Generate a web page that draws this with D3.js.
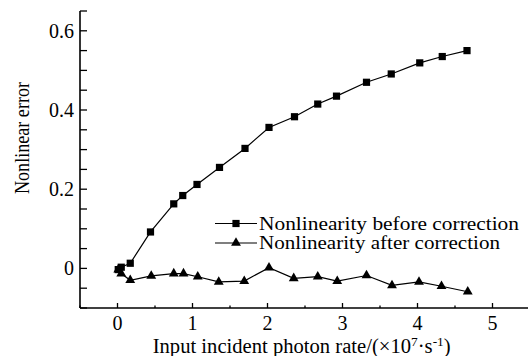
<!DOCTYPE html>
<html><head><meta charset="utf-8">
<script src="https://cdn.jsdelivr.net/npm/d3@7"></script>
<style>body{margin:0;background:#fff}svg{display:block}</style>
</head><body><svg id="c" width="528" height="356"></svg>
<script>
const beforeX = [0.01, 0.05, 0.17, 0.44, 0.75, 0.87, 1.06, 1.36, 1.70, 2.02, 2.36, 2.67, 2.92, 3.32, 3.65, 4.03, 4.33, 4.66];
const beforeY = [-0.003, 0.003, 0.013, 0.092, 0.163, 0.184, 0.212, 0.255, 0.303, 0.356, 0.383, 0.415, 0.435, 0.470, 0.491, 0.519, 0.535, 0.550];
const afterX = [0.01, 0.05, 0.17, 0.45, 0.75, 0.88, 1.07, 1.35, 1.69, 2.02, 2.35, 2.67, 2.93, 3.32, 3.66, 4.02, 4.32, 4.67];
const afterY = [-0.003, -0.013, -0.030, -0.019, -0.013, -0.013, -0.021, -0.034, -0.032, 0.002, -0.025, -0.021, -0.032, -0.018, -0.043, -0.034, -0.045, -0.059];
const xTicks = [0, 1, 2, 3, 4, 5];
const yTickLabels = [0, 0.2, 0.4, 0.6];
const seriesNames = ["Nonlinearity before correction", "Nonlinearity after correction"];

const FONT = "'Liberation Serif', 'Times New Roman', serif";
const svg = d3.select("#c");
const x = d3.scaleLinear().domain([-0.5, 5.5]).range([80, 530]);
const y = d3.scaleLinear().domain([-0.1, 0.65]).range([308, 11]);
const FS = 20;

const xMinor = d3.range(-0.5, 5.51, 0.5).filter(v => Math.abs(v - Math.round(v)) > 1e-6);
const yAll = d3.range(-0.1, 0.651, 0.05).map(v => +v.toFixed(2));

const ax = svg.append("g").attr("stroke", "#000");
ax.append("line").attr("x1", x(-0.5)).attr("x2", x(5.5)).attr("y1", y(-0.1)).attr("y2", y(-0.1)).attr("stroke-width", 1.6);
ax.append("line").attr("x1", x(-0.5)).attr("x2", x(-0.5)).attr("y1", y(-0.1)).attr("y2", y(0.65)).attr("stroke-width", 1.6);
ax.selectAll(".xt").data(xTicks).join("line").attr("x1", d => x(d)).attr("x2", d => x(d)).attr("y1", y(-0.1)).attr("y2", y(-0.1) - 5).attr("stroke-width", 1.3);
ax.selectAll(".xm").data(xMinor).join("line").attr("x1", d => x(d)).attr("x2", d => x(d)).attr("y1", y(-0.1)).attr("y2", y(-0.1) - 2.5).attr("stroke-width", 1.3);
ax.selectAll(".yt").data(yAll).join("line").attr("x1", x(-0.5)).attr("x2", x(-0.5) + 7).attr("y1", d => y(d)).attr("y2", d => y(d)).attr("stroke-width", 1.3);

const T = sel => sel.attr("font-family", FONT).attr("fill", "#000").attr("font-size", FS);
svg.selectAll(".xl").data(xTicks).join("text").call(T).attr("x", d => x(d)).attr("y", 329.5).attr("text-anchor", "middle").text(d => d);
svg.selectAll(".yl").data(yTickLabels).join("text").call(T).attr("x", 74).attr("y", d => y(d) + 6.8).attr("text-anchor", "end").text(d => d === 0 ? "0" : d.toFixed(1));

svg.append("text").call(T).attr("transform", "translate(29,138) rotate(-90)").attr("text-anchor", "middle").attr("textLength", 112).attr("lengthAdjust", "spacingAndGlyphs").text("Nonlinear error");
const xt = svg.append("text").call(T).attr("x", 152.7).attr("y", 352.5).attr("textLength", 298).attr("lengthAdjust", "spacingAndGlyphs");
xt.append("tspan").text("Input incident photon rate/(×10");
xt.append("tspan").attr("dy", -7).attr("font-size", 13).text("7");
xt.append("tspan").attr("dy", 7).text("·s");
xt.append("tspan").attr("dy", -7).attr("font-size", 13).text("-1");
xt.append("tspan").attr("dy", 7).text(")");

const line = d3.line().x(d => x(d[0])).y(d => y(d[1]));
const before = beforeX.map((v, i) => [v, beforeY[i]]);
const after = afterX.map((v, i) => [v, afterY[i]]);
svg.append("path").datum(before).attr("d", line).attr("fill", "none").attr("stroke", "#000").attr("stroke-width", 1.2);
svg.append("path").datum(after).attr("d", line).attr("fill", "none").attr("stroke", "#000").attr("stroke-width", 1.2);
const sq = d3.symbol().type(d3.symbolSquare).size(52);
const tri = d3.symbol().type(d3.symbolTriangle).size(42);
svg.selectAll(".sq").data(before).join("path").attr("d", sq).attr("transform", d => `translate(${x(d[0])},${y(d[1])})`).attr("fill", "#000");
svg.selectAll(".tr").data(after).join("path").attr("d", tri).attr("transform", d => `translate(${x(d[0])},${y(d[1])})`).attr("fill", "#000");

const lg = svg.append("g");
const legW = [260, 241];
[0, 1].forEach(i => {
  const ly = 223.5 + i * 19.5;
  lg.append("line").attr("x1", 215).attr("x2", 257).attr("y1", ly).attr("y2", ly).attr("stroke", "#000").attr("stroke-width", 1.2);
  lg.append("path").attr("d", i === 0 ? sq : tri).attr("transform", `translate(236,${ly})`).attr("fill", "#000");
  lg.append("text").call(T).attr("font-size", 19).attr("x", 259).attr("y", ly + 6).attr("textLength", legW[i]).attr("lengthAdjust", "spacingAndGlyphs").text(seriesNames[i]);
});
</script></body></html>
